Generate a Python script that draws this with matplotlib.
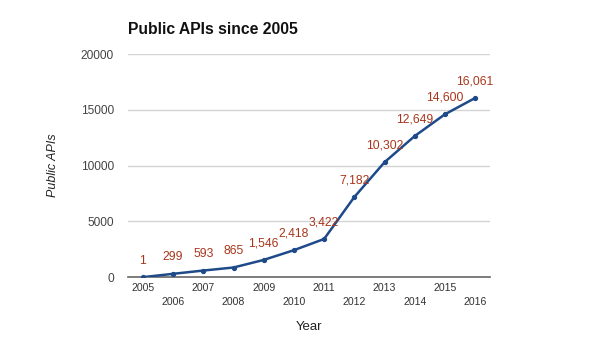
import matplotlib
matplotlib.use('Agg')
from matplotlib import pyplot as plt

plt.rcParams['font.family'] = ['Liberation Sans', 'DejaVu Sans']

# Data
years = [2005, 2006, 2007, 2008, 2009, 2010, 2011, 2012, 2013, 2014, 2015, 2016]
apis = [1, 299, 593, 865, 1546, 2418, 3422, 7182, 10302, 12649, 14600, 16061]
yticks = [0, 5000, 10000, 15000, 20000]

fig = plt.figure(figsize=(6, 3.38), dpi=100)
ax = fig.add_axes([0.213, 0.180, 0.604, 0.660])

ax.plot(years, apis, color='#1f4a8a', lw=1.8, marker='o', ms=2.8, zorder=3)

# value labels above points
for x, y in zip(years, apis):
    ax.annotate(f'{y:,}', (x, y), xytext=(0, 7.5), textcoords='offset points',
                ha='center', va='bottom', fontsize=8.7, color='#a8361c')

ax.set_xlim(years[0] - 0.5, years[-1] + 0.5)
ax.set_ylim(0, 20000)
ax.set_yticks(yticks)
ax.set_yticklabels([str(t) for t in yticks], fontsize=8.6, color='#444444')
ax.set_xticks(years)
ax.set_xticklabels([str(y) if i % 2 == 0 else '\n' + str(y) for i, y in enumerate(years)],
                   fontsize=7.6, color='#333333', linespacing=1.45)
ax.tick_params(length=0)
ax.tick_params(axis='y', pad=10)
ax.tick_params(axis='x', pad=4.5)

ax.grid(axis='y', color='#d4d4d4', lw=1)
ax.set_axisbelow(True)
for s in ['top', 'right', 'left']:
    ax.spines[s].set_visible(False)
ax.spines['bottom'].set_color('#666666')
ax.spines['bottom'].set_linewidth(1.2)

ax.set_xlabel('Year', fontsize=9.5, color='#222222', labelpad=10)
ax.set_ylabel('Public APIs', fontsize=9, style='italic', color='#222222', labelpad=16)

fig.text(0.213, 0.89, 'Public APIs since 2005', fontsize=11.3, fontweight='bold',
         ha='left', va='bottom', color='#111111')

fig.savefig('out.png', dpi=100)
